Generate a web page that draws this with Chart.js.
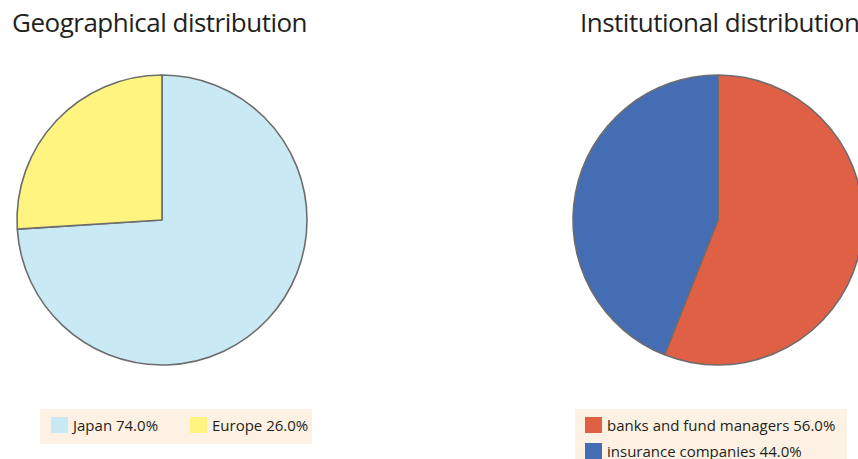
<!DOCTYPE html>
<html>
<head>
<meta charset="utf-8">
<script src="https://cdn.jsdelivr.net/npm/chart.js@4.4.1/dist/chart.umd.min.js"></script>
<style>
  html, body {
    margin: 0;
    padding: 0;
    width: 858px;
    height: 459px;
    overflow: hidden;
    background: #ffffff;
    font-family: "Open Sans", sans-serif;
    color: #231f20;
  }
  .title {
    position: absolute;
    top: 4px;
    font-size: 26px;
    letter-spacing: -0.5px;
    white-space: nowrap;
  }
  .pie-box {
    position: absolute;
    top: 70px;
    width: 300px;
    height: 300px;
  }
  .legend {
    position: absolute;
    top: 409px;
    background: #fdf1e3;
    font-size: 15px;
    white-space: nowrap;
  }
  .legend-item {
    position: absolute;
    display: flex;
    align-items: center;
  }
  .swatch {
    width: 17px;
    height: 16px;
    margin-right: 5px;
  }
</style>
</head>
<body>
  <div class="title" style="left: 12px;">Geographical distribution</div>
  <div class="title" style="left: 580px;">Institutional distribution</div>

  <div class="pie-box" style="left: 12px;"><canvas id="geoChart"></canvas></div>
  <div class="pie-box" style="left: 568px;"><canvas id="instChart"></canvas></div>

  <div class="legend" id="geoLegend" style="left: 40px; width: 272px; height: 35px;"></div>
  <div class="legend" id="instLegend" style="left: 575px; width: 272px; height: 60px;"></div>

<script>
const geoLabels = ["Japan", "Europe"];
const geoValues = [74.0, 26.0];
const geoColors = ["#c9e9f5", "#fff47f"];

const instLabels = ["banks and fund managers", "insurance companies"];
const instValues = [56.0, 44.0];
const instColors = ["#e06045", "#456db4"];

const EDGE_COLOR = "#6d6d6d";

function makePie(canvasId, labels, values, colors) {
  const canvas = document.querySelector(`#${canvasId}`);
  if (!canvas || typeof Chart === "undefined") return;

  new Chart(canvas, {
    type: "pie",
    data: {
      labels,
      datasets: [
        {
          data: values,
          backgroundColor: colors,
          borderColor: EDGE_COLOR,
          borderWidth: 1.6
        }
      ]
    },
    options: {
      responsive: true,
      maintainAspectRatio: false,
      animation: false,
      radius: 145,
      layout: { padding: 0 },
      plugins: {
        legend: { display: false },
        tooltip: { enabled: false }
      }
    }
  });
}

// legend rows: label plus its share, positions given per row
function renderLegend(boxId, labels, values, colors, spots) {
  const box = document.querySelector(`#${boxId}`);
  if (!box) return;

  box.innerHTML = labels.map((label, i) => `
    <div class="legend-item" style="left: ${spots[i][0]}px; top: ${spots[i][1]}px;">
      <div class="swatch" style="background: ${colors[i]};"></div>
      <span>${label} ${values[i].toFixed(1)}%</span>
    </div>
  `).join("");
}

makePie("geoChart", geoLabels, geoValues, geoColors);
makePie("instChart", instLabels, instValues, instColors);

renderLegend("geoLegend", geoLabels, geoValues, geoColors, [[11, 6], [150, 6]]);
renderLegend("instLegend", instLabels, instValues, instColors, [[10, 6], [10, 32]]);
</script>
</body>
</html>
